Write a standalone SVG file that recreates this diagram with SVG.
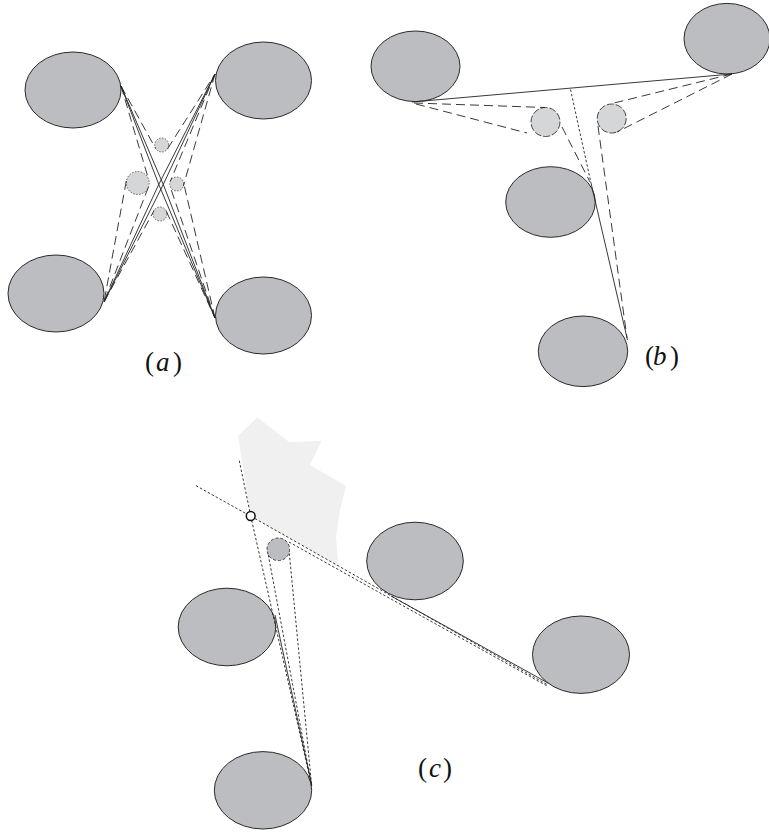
<svg xmlns="http://www.w3.org/2000/svg" width="769" height="834" viewBox="0 0 769 834">
<style>
.el{fill:#bcbdc0;stroke:#2a2a2a;stroke-width:1}
.sm{fill:#d5d6d8;stroke:#555;stroke-width:0.9;stroke-dasharray:1.5 1.5}
.smb{fill:#d5d6d8;stroke:#333;stroke-width:0.9;stroke-dasharray:7 2}
.smc{fill:#bcbdc0;stroke:#333;stroke-width:0.9;stroke-dasharray:3 2}
.s{fill:none;stroke:#222;stroke-width:0.9}
.d{fill:none;stroke:#222;stroke-width:0.9;stroke-dasharray:9 5}
.t{fill:none;stroke:#222;stroke-width:0.9;stroke-dasharray:2.5 2}
.lab{font-family:"Liberation Serif",serif;font-size:27px;fill:#111}
</style>
<rect width="769" height="834" fill="#fff"/>

<!-- Panel (a) -->
<g id="a-nodes">
<g id="a-tl"><ellipse class="el" cx="73" cy="90" rx="48" ry="38"/></g>
<g id="a-tr"><ellipse class="el" cx="263.5" cy="80.5" rx="48" ry="38.5"/></g>
<g id="a-bl"><ellipse class="el" cx="56" cy="293.5" rx="48" ry="38.5"/></g>
<g id="a-br"><ellipse class="el" cx="263.5" cy="315.5" rx="48" ry="38.5"/></g>
<g id="a-ct"><circle class="sm" cx="161.7" cy="145" r="7"/></g>
<g id="a-cl"><circle class="sm" cx="137.7" cy="183" r="11.5"/></g>
<g id="a-cr"><circle class="sm" cx="176.7" cy="184" r="7"/></g>
<g id="a-cb"><circle class="sm" cx="160" cy="214" r="7"/></g>
</g>
<g id="a-connectors">
<path class="s" d="M121,86 L159,185 L215,318 M121,86 L163.5,185 L215,318"/>
<path class="s" d="M215,74 L163,185 L104,302 M215,74 L158.5,185 L104,302"/>
<path class="d" d="M121,86 L155.6,148.4 M167.6,148.7 L215,74"/>
<path class="d" d="M104,302 L154,210.7 M166.3,211.2 L215,318"/>
<path class="d" d="M121,86 L148.7,179.7 M126.3,181 L104,302 M148.4,187.1 L104,302"/>
<path class="d" d="M215,74 L170.3,181.3 M215,74 L183.4,185.9 M215,318 L183.5,182.4 M215,318 L170,186.3"/>
</g>
<text class="lab" y="371"><tspan x="145">(</tspan><tspan x="156" font-style="italic">a</tspan><tspan x="173">)</tspan></text>

<!-- Panel (b) -->
<g id="b-nodes">
<g id="b-tl"><ellipse class="el" cx="415.5" cy="66.3" rx="44.5" ry="35.3"/></g>
<g id="b-tr"><ellipse class="el" cx="727" cy="38.7" rx="43" ry="35.3"/></g>
<g id="b-mid"><ellipse class="el" cx="550.5" cy="202" rx="44.8" ry="35.3"/></g>
<g id="b-bot"><ellipse class="el" cx="583" cy="351.3" rx="44.7" ry="35.3"/></g>
<g id="b-cl"><circle class="smb" cx="545.5" cy="122" r="14.5"/></g>
<g id="b-cr"><circle class="smb" cx="611.7" cy="118.5" r="14.5"/></g>
</g>
<g id="b-connectors">
<path class="s" d="M412,102 L732,74 M591,183 L627.5,340"/>
<path class="t" d="M570.5,89.5 L591,183"/>
<path class="d" d="M414,103 L545,107.5 M416,104 L527,133 M562,127 L590,182"/>
<path class="d" d="M732,74 L610,104 M732,74 L617,132 M598,126 L627,338"/>
</g>
<text class="lab" y="365"><tspan x="645">(</tspan><tspan x="653" font-style="italic">b</tspan><tspan x="670">)</tspan></text>

<!-- Panel (c) -->
<polygon id="c-region" points="238,436 257.3,417.3 289.3,442.3 321.7,440.7 310,465 346,486 340,510 336,537 338.5,566 250.7,516" fill="#f0f0f0"/>
<g id="c-nodes">
<g id="c-mr"><ellipse class="el" cx="415" cy="561" rx="48.3" ry="38.8"/></g>
<g id="c-l"><ellipse class="el" cx="227" cy="627" rx="48.8" ry="38.8"/></g>
<g id="c-r"><ellipse class="el" cx="581" cy="654.7" rx="48.5" ry="38.7"/></g>
<g id="c-b"><ellipse class="el" cx="263" cy="790.3" rx="48.7" ry="38.7"/></g>
<g id="c-c"><circle class="smc" cx="278.3" cy="549.3" r="11.3"/></g>
</g>
<g id="c-connectors">
<path class="t" d="M196,485.7 L246.5,513.9 M254.9,518.5 L548,685"/>
<path class="t" d="M289,542 L390,598.5 L548,686.5"/>
<path class="s" d="M391,596 L548,683"/>
<path class="t" d="M239.3,460.7 L249.8,511.6 M251.7,520.4 L311.7,786"/>
<path class="t" d="M268.3,555 L311.7,786 M289.3,553.3 L311.7,786"/>
<path class="s" d="M275,615 L311.7,785"/>
</g>
<g id="c-point"><circle cx="250.7" cy="516" r="4.4" fill="#fff" stroke="#111" stroke-width="1.5"/></g>
<text class="lab" y="777"><tspan x="418">(</tspan><tspan x="429" font-style="italic">c</tspan><tspan x="443">)</tspan></text>
</svg>
